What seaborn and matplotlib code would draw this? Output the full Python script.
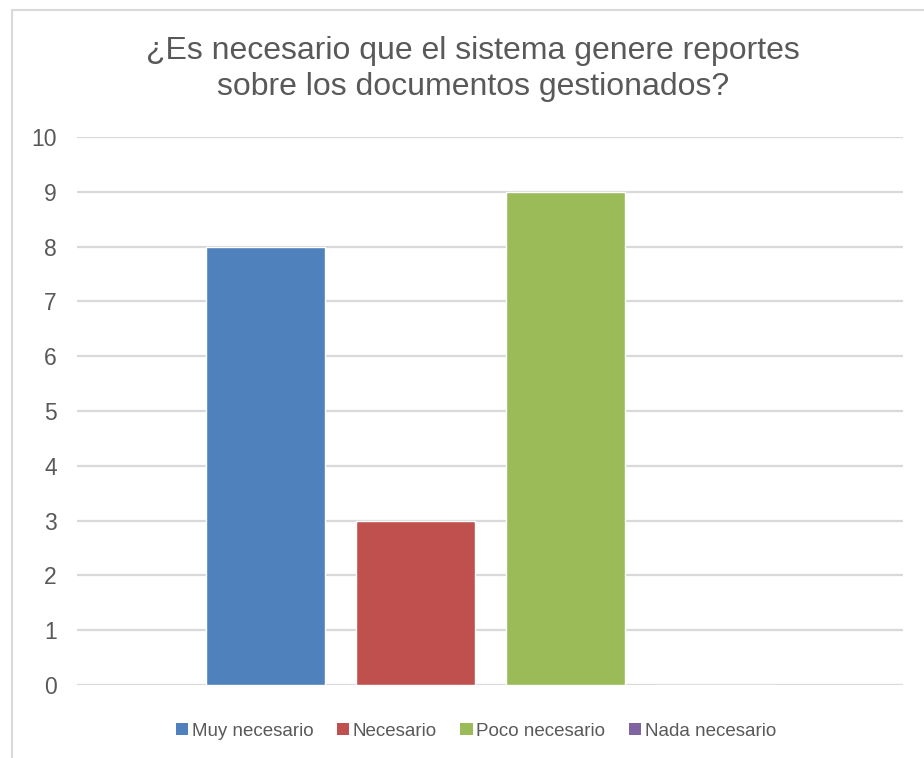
import matplotlib
matplotlib.use("Agg")
import matplotlib.pyplot as plt
import seaborn as sns
from matplotlib.patches import Patch, Rectangle

# Chart data
categories = ["Muy necesario", "Necesario", "Poco necesario", "Nada necesario"]
values = [8, 3, 9, 0]
colors = ["#4f81bd", "#c0504d", "#9bbb59", "#8064a2"]
yticks = list(range(0, 11))
title = "¿Es necesario que el sistema genere reportes\nsobre los documentos gestionados?"

sns.set_style("white")
plt.rcParams["font.family"] = ["Liberation Sans", "DejaVu Sans"]
text_color = "#595959"
grid_color = "#d9d9d9"

W, H = 924, 758
fig = plt.figure(figsize=(W / 100, H / 100), dpi=100)
ax = fig.add_axes([77 / W, (H - 685) / H, (903 - 77) / W, (685 - 137) / H])

# chart border (extends past the right and bottom edges)
fig.patches.append(Rectangle((12 / W, -0.1), 1.2, 1 - 10 / H + 0.1,
                             transform=fig.transFigure, fill=False,
                             edgecolor=grid_color, linewidth=1.5, zorder=0))

sns.barplot(x=categories, y=values, hue=categories, palette=colors,
            order=categories, hue_order=categories, width=0.793,
            saturation=1, legend=False, ax=ax, zorder=3)

ax.set_xlim(-1.257, 4.253)
ax.set_ylim(0, 10)
ax.set_yticks(yticks)
ax.set_yticklabels([str(t) for t in yticks], fontsize=16.5, color=text_color)
ax.set_xticks([])
ax.set_xlabel("")
ax.set_ylabel("")
ax.tick_params(axis="y", length=0, pad=14.5)
for t in yticks:
    ax.axhline(t, color=grid_color, linewidth=1.6, zorder=1)
for side in ["top", "right", "left", "bottom"]:
    ax.spines[side].set_visible(False)

fig.text(473 / W, 1 - 69 / H, title, ha="center", va="center",
         fontsize=23, color=text_color, linespacing=1.28)

handles = [Patch(facecolor=c, edgecolor="none") for c in colors]
fig.legend(handles, categories, loc="center", bbox_to_anchor=(476 / W, 1 - 731 / H),
           ncol=4, frameon=False, fontsize=13.5, labelcolor=text_color,
           handlelength=0.65, handleheight=0.65, handletextpad=0.2,
           columnspacing=1.25)

fig.savefig("out.png", dpi=100, facecolor="white")
